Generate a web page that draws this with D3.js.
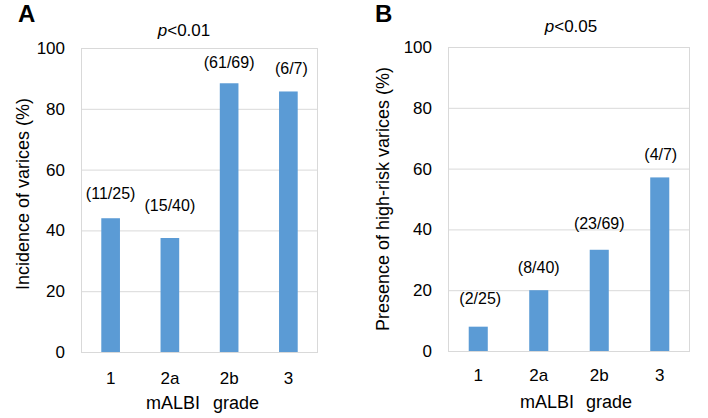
<!DOCTYPE html>
<html>
<head>
    <title>mALBI grade and varices</title>
    <script src="https://d3js.org/d3.v7.min.js"></script>
    <style>
        body { margin: 0; background: #fff; }
        svg { display: block; font-family: "Liberation Sans", Arial, sans-serif; }
        .grid line { stroke: #d9d9d9; stroke-width: 1; }
        .grid path { display: none; }
        .tick text { fill: #000; }
        .bar { fill: #5b9bd5; }
    </style>
</head>
<body>
    <svg width="708" height="418"></svg>
    <script>
        // data
        const grades = ["1", "2a", "2b", "3"];
        const yTicks = [0, 20, 40, 60, 80, 100];

        const varicesPct = [44, 37.5, 88.4, 85.7];
        const varicesLabels = ["(11/25)", "(15/40)", "(61/69)", "(6/7)"];

        const highRiskPct = [8, 20, 33.3, 57.1];
        const highRiskLabels = ["(2/25)", "(8/40)", "(23/69)", "(4/7)"];

        const svg = d3.select("svg");

        function drawPanel(p) {
            const x = d3.scaleBand()
                .domain(grades)
                .range([p.left, p.right])
                .paddingInner(0.685)
                .paddingOuter(0.3425);

            const y = d3.scaleLinear()
                .domain([0, 100])
                .range([p.bottom, p.top]);

            const g = svg.append("g");

            // gridlines + y labels
            g.append("g")
                .attr("class", "grid")
                .attr("transform", `translate(${p.left},0)`)
                .call(d3.axisLeft(y).tickValues(yTicks).tickSize(-(p.right - p.left)).tickPadding(16))
                .call(s => s.selectAll("text").style("font-size", "17px"));

            // plot box
            g.append("rect")
                .attr("x", p.left + 0.5).attr("y", y(100) + 0.5)
                .attr("width", p.right - p.left - 1).attr("height", y(0) - y(100))
                .attr("fill", "none").attr("stroke", "#d9d9d9");

            // bars
            g.selectAll(".bar")
                .data(p.values)
                .enter().append("rect")
                .attr("class", "bar")
                .attr("x", (d, i) => x(grades[i]))
                .attr("width", x.bandwidth())
                .attr("y", d => y(d))
                .attr("height", d => y(0) - y(d));

            // count labels
            g.selectAll(".lbl")
                .data(p.values)
                .enter().append("text")
                .attr("x", (d, i) => x(grades[i]) + x.bandwidth() / 2 + p.labelDx[i])
                .attr("y", (d, i) => y(d) - p.labelGap[i])
                .attr("text-anchor", "middle")
                .style("font-size", "16px")
                .text((d, i) => p.labels[i]);

            // x axis labels
            g.append("g")
                .attr("transform", `translate(0,${p.bottom})`)
                .call(d3.axisBottom(x).tickSize(0).tickPadding(p.xPad))
                .call(s => s.select(".domain").remove())
                .call(s => s.selectAll("text").style("font-size", "17px"));

            g.append("text").attr("x", p.malbiX).attr("y", p.bottom + 57)
                .attr("text-anchor", "middle").style("font-size", "18px").text("mALBI");
            g.append("text").attr("x", p.gradeX).attr("y", p.bottom + 57)
                .attr("text-anchor", "middle").style("font-size", "18px").text("grade");

            // y title
            g.append("text")
                .attr("transform", "rotate(-90)")
                .attr("x", -p.titleY).attr("y", p.titleX)
                .attr("text-anchor", "middle")
                .style("font-size", "18px")
                .text(p.yTitle);

            // p value
            const pv = g.append("text").attr("x", p.pX).attr("y", p.pY)
                .attr("text-anchor", "middle").style("font-size", "17px");
            pv.append("tspan").style("font-style", "italic").text("p");
            pv.append("tspan").text(p.pText);

            // panel letter
            g.append("text").attr("x", p.letterX).attr("y", 22)
                .style("font-size", "24px").style("font-weight", "bold").text(p.letter);
        }

        drawPanel({
            letter: "A", letterX: 18,
            left: 81, right: 318, top: 48, bottom: 352,
            values: varicesPct, labels: varicesLabels,
            labelGap: [19, 27, 15, 17], labelDx: [0, 0, 0, 3],
            xPad: 20, malbiX: 173, gradeX: 236,
            yTitle: "Incidence of varices (%)", titleX: 29, titleY: 194,
            pX: 184, pY: 36, pText: "<0.01"
        });

        drawPanel({
            letter: "B", letterX: 375,
            left: 448, right: 690, top: 47, bottom: 351,
            values: highRiskPct, labels: highRiskLabels,
            labelGap: [23, 17, 21, 17], labelDx: [2, 0, 0, 1],
            xPad: 18, malbiX: 547, gradeX: 609,
            yTitle: "Presence of high-risk varices (%)", titleX: 389, titleY: 199,
            pX: 571, pY: 32, pText: "<0.05"
        });
    </script>
</body>
</html>
